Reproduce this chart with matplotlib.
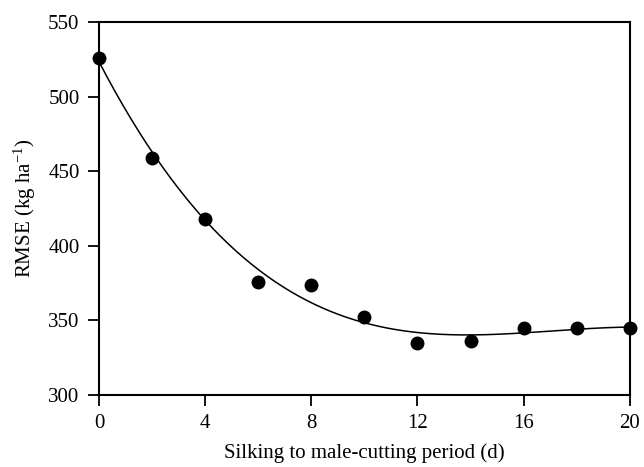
import numpy as np
import matplotlib
matplotlib.use("Agg")
import matplotlib.pyplot as plt

plt.rcParams['font.family'] = ['Liberation Serif', 'DejaVu Serif']
plt.rcParams['mathtext.fontset'] = 'stix'

# silking to male-cutting period (d) and RMSE (kg/ha)
period = [0, 2, 4, 6, 8, 10, 12, 14, 16, 18, 20]
rmse = [526, 459, 418, 376, 374, 352, 335, 336, 345, 345, 345]

# cubic fit through the points
coef = np.polyfit(period, rmse, 3)
xfit = np.linspace(0, 20, 200)
yfit = np.polyval(coef, xfit)

fig = plt.figure(figsize=(6.44, 4.67), dpi=100)
ax = fig.add_axes([0.1537, 0.1542, 0.978 - 0.1537, 0.953 - 0.1542])

ax.plot(xfit, yfit, '-k', lw=1.1)
ax.plot(period, rmse, 'ok', ms=9, clip_on=False, zorder=3)

ax.set_xlim(0, 20)
ax.set_ylim(300, 550)
ax.set_xticks([0, 4, 8, 12, 16, 20])
ax.set_yticks([300, 350, 400, 450, 500, 550])
ax.tick_params(direction='out', length=8, width=1.3, labelsize=15, pad=6)
for s in ax.spines.values():
    s.set_linewidth(1.5)

ax.set_xlabel("Silking to male-cutting period (d)", fontsize=15, labelpad=7)
ax.set_ylabel("RMSE (kg ha$^{\\mathregular{-1}}$)", fontsize=15, labelpad=7)

fig.savefig("out.png", dpi=100)
